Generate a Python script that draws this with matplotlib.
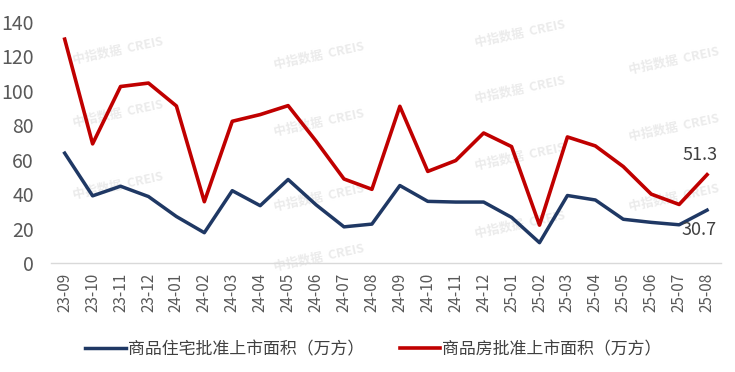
import matplotlib
matplotlib.use("Agg")
import matplotlib.pyplot as plt
import numpy as np

plt.rcParams['font.family'] = ['Noto Sans CJK SC', 'DejaVu Sans']

months = ["23-09", "23-10", "23-11", "23-12", "24-01", "24-02", "24-03", "24-04",
          "24-05", "24-06", "24-07", "24-08", "24-09", "24-10", "24-11", "24-12",
          "25-01", "25-02", "25-03", "25-04", "25-05", "25-06", "25-07", "25-08"]
zhuzhai = [63.8, 39.0, 44.6, 38.6, 27.0, 17.6, 42.0, 33.3, 48.5, 33.8, 21.0, 22.6,
           45.0, 35.8, 35.4, 35.4, 26.5, 11.8, 39.2, 36.6, 25.4, 23.6, 22.2, 30.7]
shangpin = [130.0, 69.2, 102.5, 104.5, 91.2, 35.6, 82.3, 86.2, 91.4, 70.8, 48.8, 42.8,
            91.0, 53.2, 59.5, 75.5, 67.6, 22.0, 73.2, 68.0, 56.0, 40.0, 34.0, 51.3]
label_blue = "商品住宅批准上市面积（万方）"
label_red = "商品房批准上市面积（万方）"

x = np.arange(len(months))

fig = plt.figure(figsize=(7.35, 3.72), dpi=100)
ax = fig.add_axes([0.069, 0.293, 0.912, 0.648])

ax.plot(x, zhuzhai, color='#1F3864', lw=2.5, label=label_blue, solid_joinstyle='round')
ax.plot(x, shangpin, color='#C00000', lw=2.6, label=label_red, solid_joinstyle='round')

# watermark
for wx, wy in [(0.10, 0.88), (0.40, 0.86), (0.70, 0.95), (0.93, 0.84),
               (0.10, 0.62), (0.40, 0.58), (0.70, 0.72), (0.93, 0.56),
               (0.10, 0.32), (0.40, 0.27), (0.70, 0.44), (0.93, 0.27),
               (0.40, 0.02), (0.70, 0.16)]:
    ax.text(wx, wy, "中指数据  CREIS", transform=ax.transAxes, fontsize=9,
            color='#ebebeb', rotation=12, ha='center', va='center',
            fontweight='bold', zorder=0)

ax.annotate("51.3", (x[-1], shangpin[-1]), xytext=(-5, 8), textcoords='offset points',
            fontsize=13, color='#404040', ha='center', va='bottom')
ax.annotate("30.7", (x[-1], zhuzhai[-1]), xytext=(-6, -8), textcoords='offset points',
            fontsize=13, color='#404040', ha='center', va='top')

ax.set_xlim(-0.5, len(months) - 0.5)
ax.set_ylim(0, 140)
ax.set_yticks(np.arange(0, 141, 20))
ax.set_xticks(x)
ax.set_xticklabels(months, rotation=90, fontsize=11, color='#595959')
ax.tick_params(axis='y', labelsize=14, labelcolor='#595959', length=0, pad=12)
ax.tick_params(axis='x', length=0, pad=7)

for s in ['top', 'right', 'left']:
    ax.spines[s].set_visible(False)
ax.spines['bottom'].set_color('#d9d9d9')
ax.spines['bottom'].set_linewidth(1)

fig.legend(loc='center', bbox_to_anchor=(0.508, 0.062), ncol=2, frameon=False,
           fontsize=12.2, handlelength=2.4, handletextpad=0.1, columnspacing=2.1,
           labelcolor='#404040')

fig.savefig("out.png", dpi=100)
